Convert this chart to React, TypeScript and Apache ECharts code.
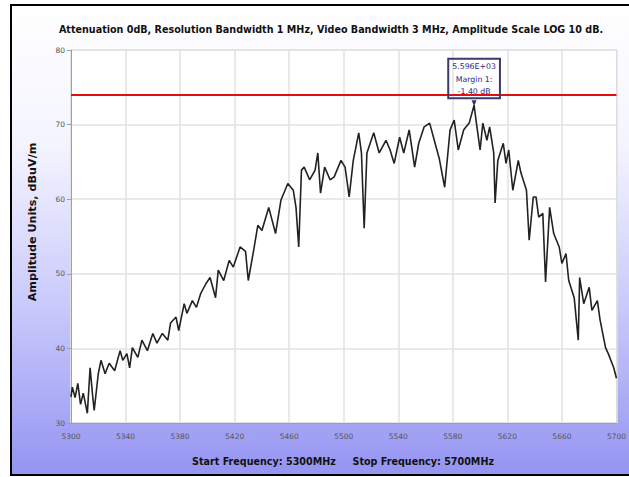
import React, { useEffect, useRef } from "react";
import * as echarts from "echarts";

const titleText =
  "Attenuation 0dB, Resolution Bandwidth 1 MHz, Video Bandwidth 3 MHz, Amplitude Scale LOG 10 dB.";
const yAxisTitle = "Amplitude Units, dBuV/m";
const xAxisTitle = "Start Frequency: 5300MHz     Stop Frequency: 5700MHz";

const freqMin = 5300;
const freqMax = 5700;
const freqStep = 40;
const ampMin = 30;
const ampMax = 80;
const ampStep = 10;

const limitLevel = 74;
const peakFreq = 5595.6;
const peakLevel = 72.6;
const markerLines = ["5.596E+03", "Margin 1:", "-1.40 dB"];

const freqs = [
  5300, 5301, 5303, 5305, 5307, 5309, 5312, 5314, 5316, 5317, 5320, 5322, 5325, 5328, 5332,
  5336, 5338, 5341, 5343, 5345, 5349, 5352, 5356, 5360, 5363, 5367, 5371, 5373, 5377, 5379,
  5383, 5385, 5389, 5392, 5395, 5399, 5402, 5406, 5408, 5412, 5416, 5419, 5424, 5428, 5430,
  5434, 5437, 5440, 5445, 5450, 5454, 5459, 5463, 5465, 5467, 5469, 5471, 5475, 5479, 5481,
  5483, 5486, 5490, 5493, 5498, 5501, 5504, 5507, 5511, 5513, 5515, 5517, 5522, 5526, 5531,
  5534, 5537, 5541, 5544, 5548, 5552, 5555, 5559, 5563, 5567, 5570, 5574, 5578, 5581, 5584,
  5588, 5592, 5595.6, 5597, 5600, 5602, 5605, 5607, 5610, 5611, 5613, 5617, 5619, 5621, 5624,
  5628, 5630, 5634, 5636, 5639, 5641, 5643, 5646, 5648, 5651, 5654, 5658, 5660, 5663, 5665,
  5669, 5672, 5673, 5676, 5680, 5682, 5686, 5688, 5692, 5694, 5698, 5700,
];

const levels = [
  33.5, 34.8, 33.4, 35.3, 32.5, 34.0, 31.3, 37.4, 33.4, 31.7, 36.6, 38.4, 36.6, 38.0, 37.0,
  39.7, 38.4, 39.3, 37.4, 40.1, 38.8, 41.1, 39.7, 42.0, 40.7, 42.0, 41.1, 43.4, 44.2, 42.4,
  46.0, 44.7, 46.4, 45.5, 47.3, 48.7, 49.5, 46.8, 50.5, 49.1, 51.8, 50.9, 53.6, 53.0, 49.1,
  53.2, 56.5, 55.8, 58.9, 55.4, 59.9, 62.1, 61.2, 58.9, 53.6, 63.9, 64.3, 62.6, 63.9, 66.2,
  60.8, 64.3, 62.6, 63.0, 65.2, 64.3, 60.3, 65.2, 68.9, 66.2, 56.1, 66.2, 68.9, 66.2, 67.9,
  66.6, 64.8, 68.3, 66.2, 69.3, 64.3, 67.5, 69.7, 70.2, 67.5, 65.5, 61.6, 69.3, 70.6, 66.6,
  69.3, 70.2, 72.6, 70.6, 66.6, 70.2, 67.9, 69.7, 66.2, 59.5, 65.2, 67.5, 64.8, 66.6, 61.2,
  65.2, 63.5, 61.2, 54.5, 60.3, 60.3, 57.6, 58.1, 48.9, 58.9, 55.4, 53.6, 51.4, 52.7, 49.1,
  46.8, 41.1, 49.5, 46.0, 48.2, 45.1, 46.4, 43.8, 40.1, 39.3, 37.4, 36.0,
];

export default function App() {
  const ref = useRef<HTMLDivElement>(null);

  useEffect(() => {
    document.body.style.margin = "0";
    if (!ref.current) return;
    const chart = echarts.init(ref.current, undefined, { renderer: "svg" });
    const data = freqs.map((f, i) => [f, levels[i]]);
    const font = "DejaVu Sans";
    const headStyle = { fontFamily: font, fontWeight: "bold", fill: "#111111" };

    chart.setOption({
      animation: false,
      backgroundColor: "#ffffff",
      graphic: [
        {
          type: "rect",
          z: -100,
          silent: true,
          shape: { x: 11, y: 5, width: 640, height: 470 },
          style: {
            fill: new echarts.graphic.LinearGradient(0, 0, 0, 1, [
              { offset: 0, color: "#ffffff" },
              { offset: 0.3, color: "#f4f4ff" },
              { offset: 0.65, color: "#c8c8fb" },
              { offset: 1, color: "#9494f2" },
            ]),
          },
        },
        {
          type: "polyline",
          z: -90,
          silent: true,
          shape: { points: [[640, 5], [11, 5], [11, 475], [640, 475]] },
          style: { stroke: "#000000", lineWidth: 2, fill: "none" },
        },
        {
          type: "text",
          x: 331,
          y: 29,
          style: {
            ...headStyle,
            text: titleText,
            fontSize: 9.6,
            align: "center",
            verticalAlign: "middle",
          },
        },
        {
          type: "text",
          x: 343,
          y: 461,
          style: {
            ...headStyle,
            text: xAxisTitle,
            fontSize: 9.6,
            align: "center",
            verticalAlign: "middle",
          },
        },
        {
          type: "text",
          x: 32,
          y: 222,
          rotation: Math.PI / 2,
          style: {
            ...headStyle,
            text: yAxisTitle,
            fontSize: 11.2,
            align: "center",
            verticalAlign: "middle",
          },
        },
      ],
      grid: {
        left: 71,
        right: 8,
        top: 50,
        bottom: 54,
        show: true,
        backgroundColor: "#ffffff",
        borderColor: "#d0d0d0",
        borderWidth: 1,
      },
      xAxis: {
        type: "value",
        min: freqMin,
        max: freqMax,
        interval: freqStep,
        axisLine: { show: true, lineStyle: { color: "#a0a0a0" } },
        axisTick: { show: false },
        axisLabel: {
          fontFamily: font,
          fontSize: 7.5,
          color: "#555555",
          margin: 9,
          formatter: (v: number) => String(v),
        },
        splitLine: { show: true, lineStyle: { color: "#e2e2e2", width: 1.5 } },
      },
      yAxis: {
        type: "value",
        min: ampMin,
        max: ampMax,
        interval: ampStep,
        axisLine: { show: true, lineStyle: { color: "#a0a0a0" } },
        axisTick: { show: true, length: 4, lineStyle: { color: "#a0a0a0" } },
        axisLabel: { fontFamily: font, fontSize: 7.5, color: "#555555", margin: 6 },
        splitLine: { show: true, lineStyle: { color: "#e2e2e2", width: 1.5 } },
      },
      series: [
        {
          type: "line",
          data,
          showSymbol: false,
          symbol: "none",
          lineStyle: { color: "#222222", width: 1.6 },
          markLine: {
            silent: true,
            symbol: "none",
            label: { show: false },
            lineStyle: { color: "#e01010", width: 2, type: "solid" },
            data: [{ yAxis: limitLevel }],
          },
          markPoint: {
            symbol: "triangle",
            symbolRotate: 180,
            symbolSize: [5, 6],
            symbolOffset: [0, -2],
            itemStyle: { color: "#333366" },
            label: {
              show: true,
              position: "top",
              distance: 2,
              formatter: markerLines.join("\n"),
              fontFamily: font,
              fontSize: 7.8,
              lineHeight: 12.5,
              color: "#2a2a88",
              backgroundColor: "rgba(255,255,255,0)",
              borderColor: "#3a3a70",
              borderWidth: 1,
              padding: [2, 4, 0, 4],
              align: "center",
            },
            data: [{ coord: [peakFreq, peakLevel] }],
          },
        },
      ],
    });

    return () => chart.dispose();
  }, []);

  return <div ref={ref} style={{ width: 629, height: 477 }} />;
}
